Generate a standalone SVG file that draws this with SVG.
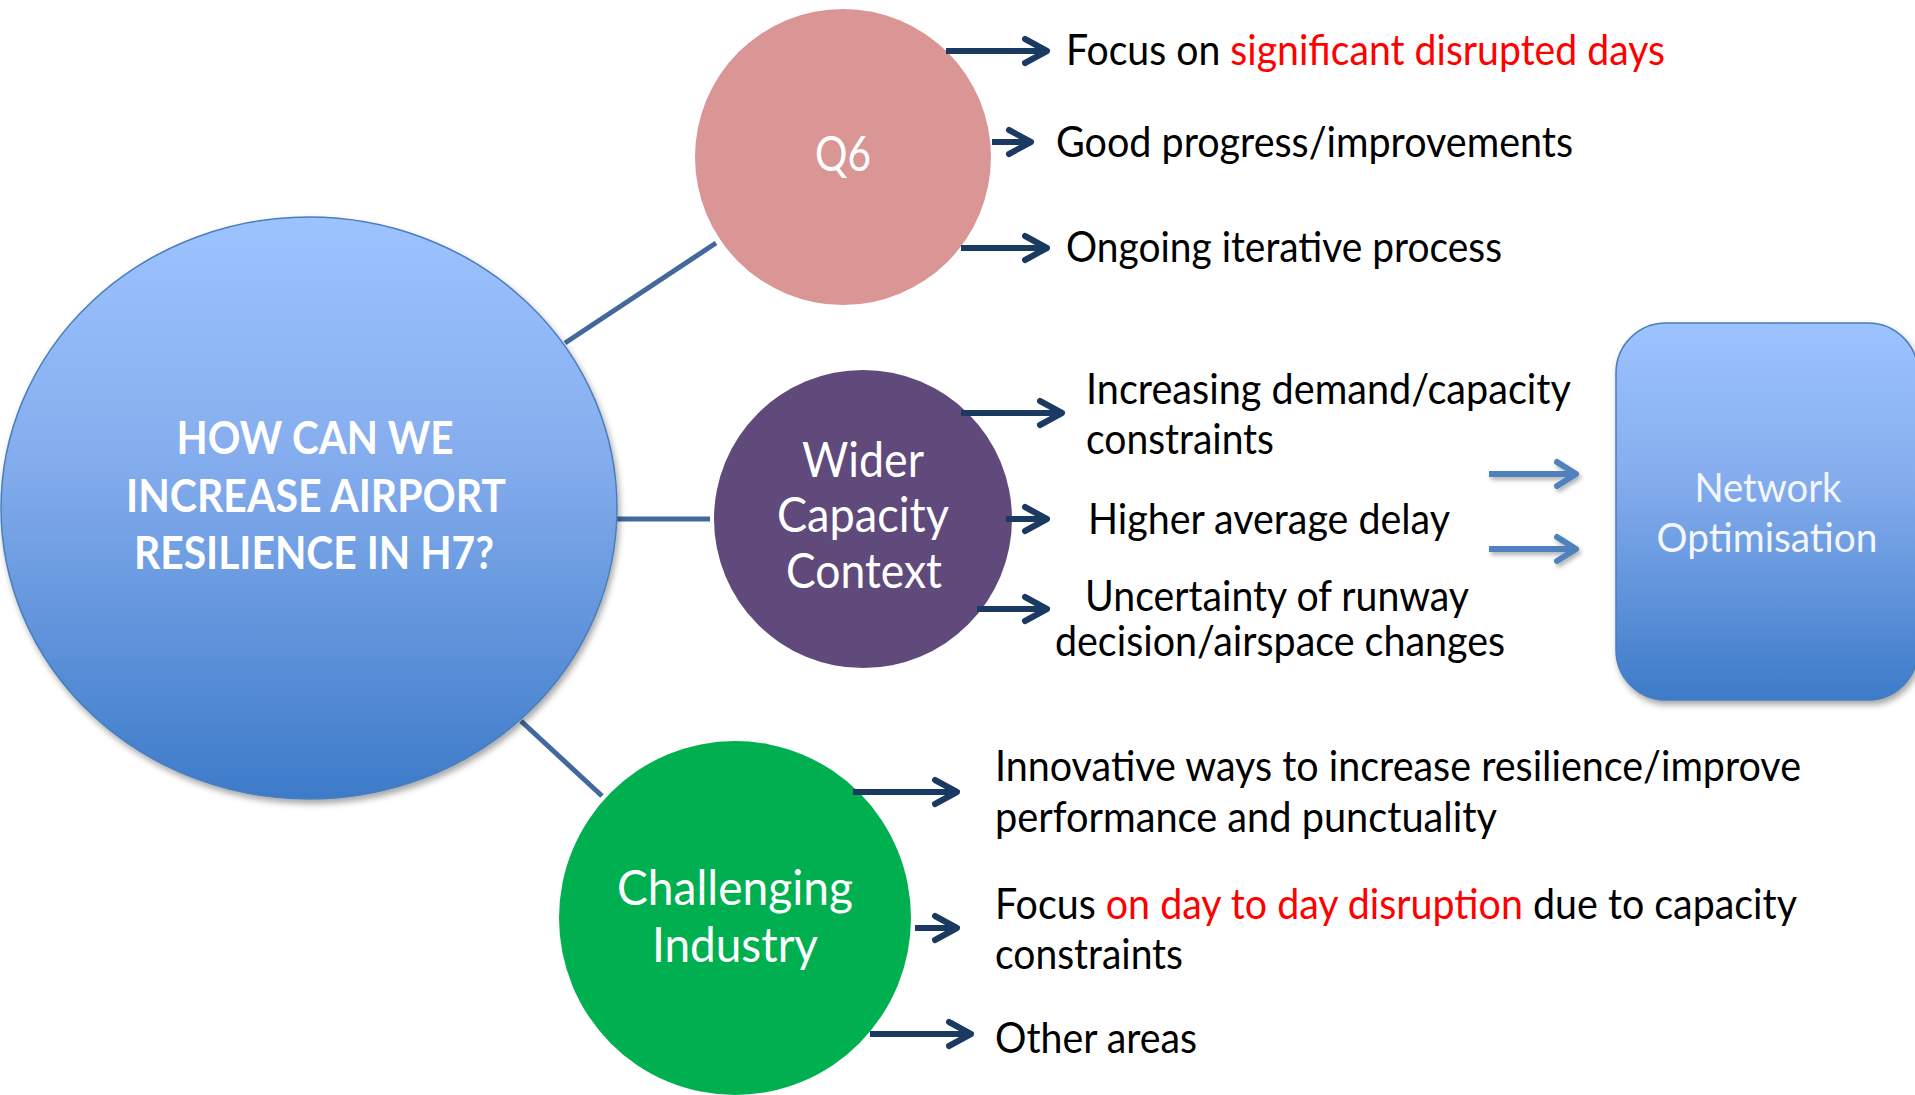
<svg xmlns="http://www.w3.org/2000/svg" width="1915" height="1095" viewBox="0 0 1915 1095">
  <defs>
    <linearGradient id="blueGrad" x1="0" y1="0" x2="0" y2="1">
      <stop offset="0" stop-color="#9DC3FF"/>
      <stop offset="0.4" stop-color="#86AEEE"/>
      <stop offset="1" stop-color="#3D7BC9"/>
    </linearGradient>
    <filter id="shadow" x="-10%" y="-10%" width="125%" height="125%">
      <feDropShadow dx="2" dy="4" stdDeviation="3" flood-color="#000" flood-opacity="0.35"/>
    </filter>
    <filter id="shadowSmall" x="-20%" y="-60%" width="140%" height="240%">
      <feDropShadow dx="2" dy="3" stdDeviation="2" flood-color="#000" flood-opacity="0.3"/>
    </filter>
    <marker id="navyHead" markerUnits="userSpaceOnUse" viewBox="-30 -20 40 40" markerWidth="40" markerHeight="40" refX="0" refY="0" orient="auto">
      <path d="M -22 -12 L 0 0 L -22 12" fill="none" stroke="#1B3A62" stroke-width="6" stroke-linecap="round" stroke-linejoin="round"/>
    </marker>
    <marker id="blueHead" markerUnits="userSpaceOnUse" viewBox="-30 -20 40 40" markerWidth="40" markerHeight="40" refX="0" refY="0" orient="auto">
      <path d="M -19 -12 L 0 0 L -19 12" fill="none" stroke="#4F81BD" stroke-width="6" stroke-linecap="round" stroke-linejoin="round"/>
    </marker>
  </defs>
  <style>
    .label { font-family: Lato, "Open Sans", "Liberation Sans", sans-serif; font-size: 42px; fill: #000; }
    .red { fill: #FF0000; }
    .node-text { font-family: Lato, "Open Sans", "Liberation Sans", sans-serif; font-size: 48px; fill: #FFFFFF; text-anchor: middle; }
    .main-text { font-family: Lato, "Open Sans", "Liberation Sans", sans-serif; font-size: 46px; font-weight: 700; fill: #FFFFFF; text-anchor: middle; }
    .net-text { font-family: Lato, "Open Sans", "Liberation Sans", sans-serif; font-size: 41px; fill: #F4F6FF; text-anchor: middle; }
    .link { stroke: #41699C; stroke-width: 5; fill: none; }
    .arrow { stroke: #1B3A62; stroke-width: 6; fill: none; marker-end: url(#navyHead); }
    .arrow-blue { stroke: #4F81BD; stroke-width: 6; fill: none; marker-end: url(#blueHead); }
  </style>

  <rect width="1915" height="1095" fill="#FFFFFF"/>

  <g id="connectors">
    <line class="link" x1="565" y1="343" x2="716" y2="243"/>
    <line class="link" x1="616" y1="519" x2="710" y2="519"/>
    <line class="link" x1="521" y1="721" x2="602" y2="796"/>
  </g>

  <g id="node-main">
    <ellipse cx="309" cy="508" rx="308" ry="291" fill="url(#blueGrad)" stroke="#4A7EBB" stroke-width="1.5" filter="url(#shadow)"/>
    <text class="main-text" x="315" y="454" textLength="277" lengthAdjust="spacingAndGlyphs">HOW CAN WE</text>
    <text class="main-text" x="316" y="512" textLength="380" lengthAdjust="spacingAndGlyphs">INCREASE AIRPORT</text>
    <text class="main-text" x="314" y="569" textLength="360" lengthAdjust="spacingAndGlyphs">RESILIENCE IN H7?</text>
  </g>

  <g id="node-q6">
    <circle cx="843" cy="157" r="148" fill="#D99694"/>
    <text class="node-text" x="843" y="171" textLength="56" lengthAdjust="spacingAndGlyphs">Q6</text>
  </g>

  <g id="node-wider">
    <circle cx="863" cy="519" r="149" fill="#604A7B"/>
    <text class="node-text" x="863" y="477" textLength="122" lengthAdjust="spacingAndGlyphs">Wider</text>
    <text class="node-text" x="863" y="532" textLength="172" lengthAdjust="spacingAndGlyphs">Capacity</text>
    <text class="node-text" x="864" y="588" textLength="156" lengthAdjust="spacingAndGlyphs">Context</text>
  </g>

  <g id="node-challenging">
    <ellipse cx="735" cy="918" rx="176" ry="177" fill="#00B050"/>
    <text class="node-text" x="735" y="905" textLength="236" lengthAdjust="spacingAndGlyphs">Challenging</text>
    <text class="node-text" x="735" y="962" textLength="166" lengthAdjust="spacingAndGlyphs">Industry</text>
  </g>

  <g id="node-network">
    <rect x="1616" y="323" width="302" height="377" rx="50" ry="50" fill="url(#blueGrad)" stroke="#4A7EBB" stroke-width="1.5" filter="url(#shadow)"/>
    <text class="net-text" x="1768" y="502" textLength="147" lengthAdjust="spacingAndGlyphs">Network</text>
    <text class="net-text" x="1767" y="552" textLength="221" lengthAdjust="spacingAndGlyphs">Optimisation</text>
  </g>

  <g id="arrows">
    <line class="arrow" x1="946" y1="51" x2="1047" y2="51"/>
    <line class="arrow" x1="992" y1="142" x2="1031" y2="142"/>
    <line class="arrow" x1="961" y1="248" x2="1047" y2="248"/>
    <line class="arrow" x1="961" y1="413" x2="1062" y2="413"/>
    <line class="arrow" x1="1006" y1="519" x2="1047" y2="519"/>
    <line class="arrow" x1="977" y1="609" x2="1047" y2="609"/>
    <line class="arrow" x1="853" y1="792" x2="957" y2="792"/>
    <line class="arrow" x1="915" y1="928" x2="957" y2="928"/>
    <line class="arrow" x1="870" y1="1034" x2="971" y2="1034"/>
    <g filter="url(#shadowSmall)">
      <line class="arrow-blue" x1="1489" y1="474" x2="1576" y2="474"/>
      <line class="arrow-blue" x1="1489" y1="549" x2="1576" y2="549"/>
    </g>
  </g>

  <g id="labels">
    <text class="label" x="1066" y="65" textLength="599" lengthAdjust="spacingAndGlyphs">Focus on <tspan class="red">significant disrupted days</tspan></text>
    <text class="label" x="1056" y="157" textLength="517" lengthAdjust="spacingAndGlyphs">Good progress/improvements</text>
    <text class="label" x="1066" y="262" textLength="436" lengthAdjust="spacingAndGlyphs">Ongoing iterative process</text>
    <text class="label" x="1086" y="404" textLength="485" lengthAdjust="spacingAndGlyphs">Increasing demand/capacity</text>
    <text class="label" x="1086" y="454" textLength="188" lengthAdjust="spacingAndGlyphs">constraints</text>
    <text class="label" x="1088" y="534" textLength="362" lengthAdjust="spacingAndGlyphs">Higher average delay</text>
    <text class="label" x="1085" y="611" textLength="384" lengthAdjust="spacingAndGlyphs">Uncertainty of runway</text>
    <text class="label" x="1055" y="656" textLength="450" lengthAdjust="spacingAndGlyphs">decision/airspace changes</text>
    <text class="label" x="995" y="781" textLength="806" lengthAdjust="spacingAndGlyphs">Innovative ways to increase resilience/improve</text>
    <text class="label" x="995" y="832" textLength="502" lengthAdjust="spacingAndGlyphs">performance and punctuality</text>
    <text class="label" x="995" y="919" textLength="802" lengthAdjust="spacingAndGlyphs">Focus <tspan class="red">on day to day disruption</tspan> due to capacity</text>
    <text class="label" x="995" y="969" textLength="188" lengthAdjust="spacingAndGlyphs">constraints</text>
    <text class="label" x="995" y="1053" textLength="202" lengthAdjust="spacingAndGlyphs">Other areas</text>
  </g>
</svg>
